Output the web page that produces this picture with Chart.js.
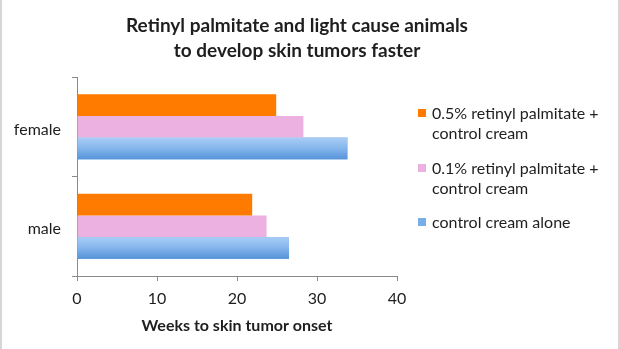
<!DOCTYPE html>
<html>
<head>
<meta charset="utf-8">
<script src="https://cdn.jsdelivr.net/npm/chart.js@4"></script>
<style>
    body { margin: 0; background: #fff; }
    #wrap { width: 620px; height: 349px; position: relative; }
</style>
</head>
<body>
<div id="wrap"><canvas id="tumorChart" width="620" height="349"></canvas></div>
<script>
// data
const groups = ['female', 'male'];
const highDose = [24.9, 21.9];     // 0.5% retinyl palmitate + control cream
const lowDose = [28.3, 23.7];      // 0.1% retinyl palmitate + control cream
const controlOnly = [33.8, 26.5];  // control cream alone

const seriesNames = [
    ['0.5% retinyl palmitate +', 'control cream'],
    ['0.1% retinyl palmitate +', 'control cream'],
    ['control cream alone']
];
const titleLines = ['Retinyl palmitate and light cause animals', 'to develop skin tumors faster'];
const xTitle = 'Weeks to skin tumor onset';

const ORANGE = '#ff7b00';
const PINK = '#ecb1e1';
const BLUE = '#79aee9';
const AXIS = '#8a8a8a';
const TEXT = '#1e1e1e';
const FONT = 'Lato, "Open Sans", sans-serif';

// title, legend, blue bar shading and side frame
const extras = {
    id: 'extras',
    afterDatasetsDraw(chart) {
        // blue bars have a soft top-to-bottom gradient
        const ctx = chart.ctx;
        const meta = chart.getDatasetMeta(2);
        meta.data.forEach((bar) => {
            const p = bar.getProps(['x', 'y', 'base', 'height'], true);
            const top = p.y - p.height / 2;
            const g = ctx.createLinearGradient(0, top, 0, top + p.height);
            g.addColorStop(0, '#a9cdf6');
            g.addColorStop(0.5, '#84b5ec');
            g.addColorStop(1, '#5593d8');
            ctx.save();
            ctx.fillStyle = g;
            ctx.fillRect(p.base, top, p.x - p.base, p.height);
            ctx.restore();
        });
    },
    afterDraw(chart) {
        const ctx = chart.ctx;
        ctx.save();

        // title
        ctx.fillStyle = TEXT;
        ctx.font = 'bold 19px ' + FONT;
        ctx.textAlign = 'center';
        ctx.textBaseline = 'middle';
        titleLines.forEach((line, i) => {
            ctx.fillText(line, 297, 26 + i * 25);
        });

        // legend
        const colors = [ORANGE, PINK, BLUE];
        const starts = [113, 168, 222];
        ctx.font = '16px ' + FONT;
        ctx.textAlign = 'left';
        seriesNames.forEach((lines, i) => {
            ctx.fillStyle = colors[i];
            ctx.fillRect(418, starts[i] - 4, 8, 8);
            ctx.fillStyle = TEXT;
            lines.forEach((line, j) => {
                ctx.fillText(line, 432, starts[i] + 1 + j * 20);
            });
        });

        // thin frame on the sides
        ctx.strokeStyle = '#c9c9c9';
        ctx.lineWidth = 1.5;
        ctx.beginPath();
        ctx.moveTo(1, 0); ctx.lineTo(1, 349);
        ctx.moveTo(619, 0); ctx.lineTo(619, 349);
        ctx.stroke();
        ctx.restore();
    }
};

new Chart(document.getElementById('tumorChart'), {
    type: 'bar',
    data: {
        labels: groups,
        datasets: [
            { label: seriesNames[0].join(' '), data: highDose, backgroundColor: ORANGE },
            { label: seriesNames[1].join(' '), data: lowDose, backgroundColor: PINK },
            { label: seriesNames[2].join(' '), data: controlOnly, backgroundColor: BLUE }
        ]
    },
    options: {
        indexAxis: 'y',
        responsive: false,
        animation: false,
        categoryPercentage: 0.655,
        barPercentage: 1,
        layout: { padding: { top: 77, right: 223, left: 0, bottom: 0 } },
        plugins: {
            legend: { display: false },
            title: { display: false },
            tooltip: { enabled: false }
        },
        scales: {
            x: {
                min: 0,
                max: 40,
                ticks: { stepSize: 10, color: TEXT, font: { family: FONT, size: 16 }, padding: 8 },
                grid: { drawOnChartArea: false, drawTicks: true, tickLength: 5, color: AXIS },
                border: { color: AXIS },
                title: {
                    display: true,
                    text: xTitle,
                    color: TEXT,
                    font: { family: FONT, size: 16, weight: 'bold' },
                    padding: { top: 4, bottom: 14 }
                },
                afterFit(scale) { scale.height = 73; }
            },
            y: {
                ticks: { color: TEXT, font: { family: FONT, size: 16 }, padding: 11, labelOffset: 3 },
                grid: { drawOnChartArea: false, drawTicks: true, tickLength: 5, color: AXIS },
                border: { color: AXIS },
                afterFit(scale) { scale.width = 77; }
            }
        }
    },
    plugins: [extras]
});
</script>
</body>
</html>
